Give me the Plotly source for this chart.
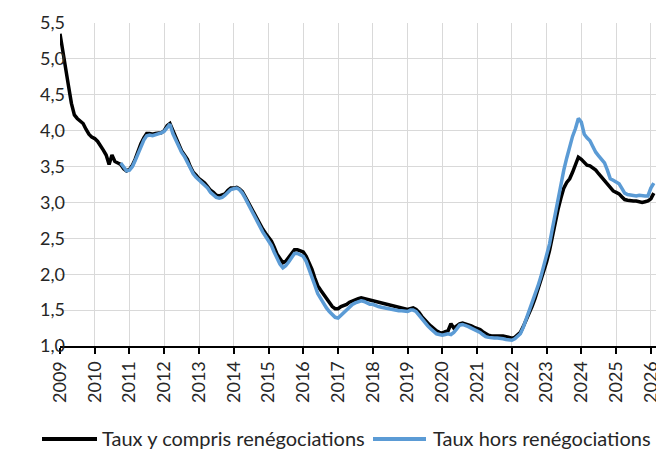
import plotly.graph_objects as go
import pandas as pd

# Monthly series
black_start = "2009-01-01"
black_vals = [
    # 2009
    5.35, 5.12, 4.90, 4.62, 4.38, 4.22, 4.17, 4.14, 4.10, 4.02, 3.95, 3.91,
    # 2010
    3.89, 3.85, 3.80, 3.73, 3.66, 3.53, 3.66, 3.57, 3.55, 3.53, 3.47, 3.44,
    # 2011
    3.46, 3.52, 3.60, 3.72, 3.82, 3.90, 3.96, 3.96, 3.95, 3.96, 3.97, 3.97,
    # 2012
    4.00, 4.07, 4.10, 4.00, 3.90, 3.80, 3.72, 3.66, 3.60, 3.50, 3.42, 3.38,
    # 2013
    3.33, 3.30, 3.27, 3.22, 3.17, 3.14, 3.10, 3.09, 3.10, 3.12, 3.17, 3.20,
    # 2014
    3.20, 3.21, 3.19, 3.15, 3.08, 3.00, 2.93, 2.85, 2.78, 2.70, 2.63, 2.57,
    # 2015
    2.52, 2.46, 2.38, 2.28, 2.22, 2.16, 2.18, 2.23, 2.28, 2.34, 2.34, 2.33,
    # 2016
    2.31, 2.25, 2.17, 2.07, 1.95, 1.84, 1.78, 1.72, 1.65, 1.60, 1.55, 1.52,
    # 2017
    1.52, 1.55, 1.56, 1.58, 1.61, 1.63, 1.65, 1.66, 1.67, 1.66, 1.65, 1.63,
    # 2018
    1.63, 1.61, 1.60, 1.59, 1.58, 1.57, 1.56, 1.55, 1.55, 1.54, 1.53, 1.52,
    # 2019
    1.51, 1.52, 1.53, 1.51, 1.47, 1.41, 1.36, 1.32, 1.28, 1.24, 1.21, 1.19,
    # 2020
    1.18, 1.20, 1.21, 1.31, 1.25, 1.28, 1.31, 1.32, 1.31, 1.29, 1.28, 1.26,
    # 2021
    1.25, 1.23, 1.20, 1.17, 1.15, 1.14, 1.14, 1.14, 1.15, 1.14, 1.13, 1.12,
    # 2022
    1.11, 1.12, 1.15, 1.19, 1.27, 1.36, 1.45, 1.55, 1.66, 1.78, 1.90, 2.03,
    # 2023
    2.17, 2.33, 2.52, 2.72, 2.90, 3.06, 3.20, 3.28, 3.33, 3.42, 3.52, 3.63,
    # 2024
    3.60, 3.55, 3.52, 3.51, 3.48, 3.45, 3.40, 3.35, 3.30, 3.24, 3.19, 3.16,
    # 2025
    3.14, 3.12, 3.08, 3.04, 3.03, 3.02, 3.02, 3.02, 3.01, 3.00, 3.01, 3.02,
    # 2026
    3.05, 3.13,
]

blue_start = "2010-10-01"
blue_vals = [
    # 2010 (Oct-Dec)
    3.55, 3.50, 3.44,
    # 2011
    3.45, 3.50, 3.58, 3.68, 3.78, 3.87, 3.93, 3.94, 3.93, 3.94, 3.95, 3.97,
    # 2012
    3.99, 4.05, 4.09, 3.96, 3.87, 3.78, 3.70, 3.64, 3.56, 3.47, 3.40, 3.35,
    # 2013
    3.31, 3.28, 3.25, 3.20, 3.14, 3.10, 3.07, 3.06, 3.07, 3.10, 3.15, 3.18,
    # 2014
    3.19, 3.20, 3.18, 3.13, 3.06, 2.98, 2.90, 2.82, 2.74, 2.66, 2.59, 2.53,
    # 2015
    2.47, 2.40, 2.31, 2.22, 2.14, 2.09, 2.12, 2.17, 2.23, 2.29, 2.29, 2.27,
    # 2016
    2.25, 2.18, 2.08, 1.98, 1.85, 1.73, 1.66, 1.60, 1.53, 1.48, 1.43, 1.40,
    # 2017
    1.39, 1.43, 1.47, 1.51, 1.55, 1.58, 1.60, 1.62, 1.63, 1.62, 1.60, 1.58,
    # 2018
    1.58, 1.56, 1.55, 1.54, 1.53, 1.52, 1.51, 1.50, 1.50, 1.49, 1.49, 1.48,
    # 2019
    1.48, 1.50, 1.50, 1.48, 1.43, 1.37, 1.32, 1.28, 1.24, 1.20, 1.17, 1.16,
    # 2020
    1.15, 1.16, 1.17, 1.16, 1.19, 1.24, 1.29, 1.30, 1.29, 1.27, 1.25, 1.23,
    # 2021
    1.22, 1.19, 1.16, 1.13, 1.12, 1.11, 1.11, 1.11, 1.11, 1.10, 1.09, 1.08,
    # 2022
    1.08, 1.10, 1.13, 1.17, 1.26, 1.37, 1.48, 1.59, 1.71, 1.83, 1.96, 2.10,
    # 2023
    2.25, 2.42, 2.62, 2.84, 3.06, 3.26, 3.45, 3.62, 3.78, 3.92, 4.03, 4.17,
    # 2024
    4.12, 3.95, 3.90, 3.86, 3.78, 3.70, 3.65, 3.60, 3.55, 3.45, 3.33, 3.31,
    # 2025
    3.29, 3.26, 3.20, 3.13, 3.11, 3.10, 3.09, 3.09, 3.10, 3.09, 3.09, 3.09,
    # 2026
    3.20, 3.27,
]

black_name = "Taux y compris renégociations"
blue_name = "Taux hors renégociations"

black_dates = pd.date_range(black_start, periods=len(black_vals), freq="MS")
blue_dates = pd.date_range(blue_start, periods=len(blue_vals), freq="MS")

FONT = "Lato"
TXT = "#262626"
BLACK = "#000000"
BLUE = "#5B9BD5"

W, H = 656, 450
ML, MR, MT, MB = 60, 0, 23, 104
PW, PH = W - ML - MR, H - MT - MB


def px2x(px):
    return (px - ML) / PW


def py2y(py):
    return (H - MB - py) / PH


fig = go.Figure()
fig.add_trace(go.Scatter(x=black_dates, y=black_vals, mode="lines", name=black_name,
                         line=dict(color=BLACK, width=3.5), showlegend=False))
fig.add_trace(go.Scatter(x=blue_dates, y=blue_vals, mode="lines", name=blue_name,
                         line=dict(color=BLUE, width=3.5), showlegend=False))

# Custom legend (line samples + labels) below the plot
legend_items = [
    (black_name, BLACK, 42, 97, 100),
    (blue_name, BLUE, 373, 426, 431),
]
ly = 439
shapes, annotations = [], []
for name, col, x0, x1, tx in legend_items:
    shapes.append(dict(type="line", xref="paper", yref="paper",
                       x0=px2x(x0), x1=px2x(x1), y0=py2y(ly), y1=py2y(ly),
                       line=dict(color=col, width=4)))
    annotations.append(dict(text=name, xref="paper", yref="paper",
                            x=px2x(tx), y=py2y(ly - 1), xanchor="left", yanchor="middle",
                            showarrow=False, font=dict(size=20, color=TXT, family=FONT)))

fig.update_layout(
    width=W, height=H,
    margin=dict(l=ML, r=MR, t=MT, b=MB, autoexpand=False),
    paper_bgcolor="white", plot_bgcolor="white",
    separators=", ",
    font=dict(family=FONT, size=18, color=TXT),
    showlegend=False,
    shapes=shapes, annotations=annotations,
)
fig.update_xaxes(
    type="date", range=["2009-01-01", "2026-02-24"],
    tickformat="%Y", dtick="M12", tick0="2009-01-01", tickangle=-90,
    showgrid=True, gridcolor="#d9d9d9", gridwidth=1,
    showline=True, linecolor=BLACK, linewidth=2,
    ticks="outside", ticklen=6, tickcolor=BLACK, tickwidth=1.5,
    tickfont=dict(size=18, color=TXT), zeroline=False, automargin=False,
    ticklabeloverflow="allow",
)
fig.update_yaxes(
    range=[1, 5.5], dtick=0.5, tick0=1, tickformat=".1f",
    showgrid=True, gridcolor="#d9d9d9", gridwidth=1,
    showline=False, ticks="", zeroline=False, automargin=False,
    tickfont=dict(size=18, color=TXT), ticklabelstandoff=-6,
)

fig.write_html("out.html", config={"displayModeBar": False},
               post_script="document.body.style.margin='0';document.body.style.overflow='hidden';")
